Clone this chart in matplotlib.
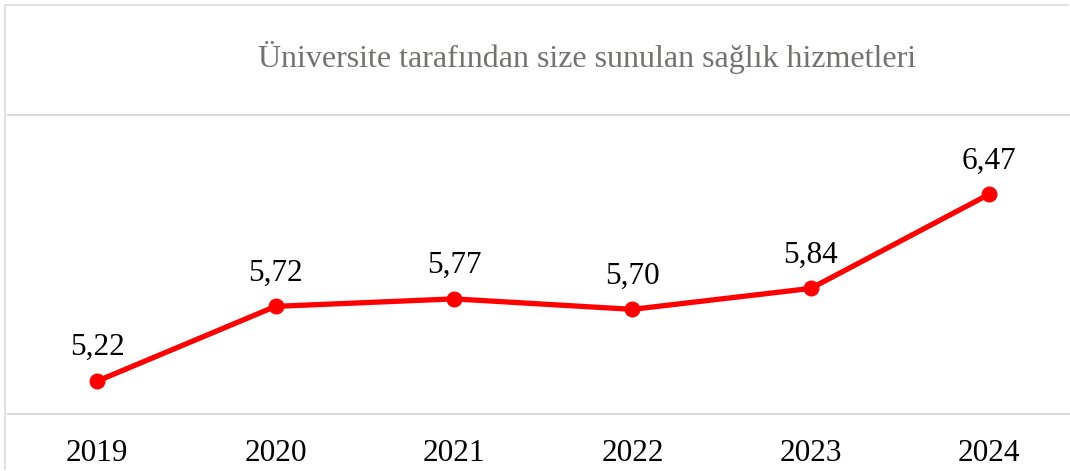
import matplotlib
matplotlib.use("Agg")
import matplotlib.pyplot as plt

years = ["2019", "2020", "2021", "2022", "2023", "2024"]
scores = [5.22, 5.72, 5.77, 5.70, 5.84, 6.47]
title = "Üniversite tarafından size sunulan sağlık hizmetleri"

W, H = 1070, 471
plt.rcParams["font.family"] = ["Liberation Serif", "DejaVu Serif"]

fig = plt.figure(figsize=(W / 100, H / 100), dpi=100)

# background axes in pixel units, used only for the outer chart border
bg = fig.add_axes([0, 0, 1, 1])
bg.set_xlim(0, W)
bg.set_ylim(H, 0)
bg.axis("off")
bg.plot([4.5, 4.5, W - 1], [H - 1, 4.5, 4.5], color="#d9d9d9", lw=1.1,
        solid_capstyle="butt")

ax = fig.add_axes([8 / W, (H - 414) / H, 1070.4 / W, 299 / H])
x = list(range(len(years)))
ax.plot(x, scores, color="#ff0000", lw=3.8, marker="o", markersize=10.5,
        solid_capstyle="round", zorder=3, clip_on=False)

for xi, v in zip(x, scores):
    ax.annotate(f"{v:.2f}".replace(".", ","), (xi, v), xytext=(0, 24),
                textcoords="offset points", ha="center", va="center",
                fontsize=22.5, color="black")

ax.set_xlim(-0.5, len(years) - 0.5)
ax.set_ylim(5, 7)
for yv in (5, 7):
    ax.axhline(yv, color="#d9d9d9", lw=1.5, zorder=1, clip_on=False)

ax.set_xticks(x)
ax.set_xticklabels(years, fontsize=22.5)
ax.tick_params(axis="x", length=0, pad=18)
ax.set_yticks([])
for s in ax.spines.values():
    s.set_visible(False)
ax.patch.set_alpha(0)

fig.text(587 / W, 1 - 57 / H, title, ha="center", va="center",
         fontsize=23, color="#767171")

fig.savefig("out.png", dpi=100)
